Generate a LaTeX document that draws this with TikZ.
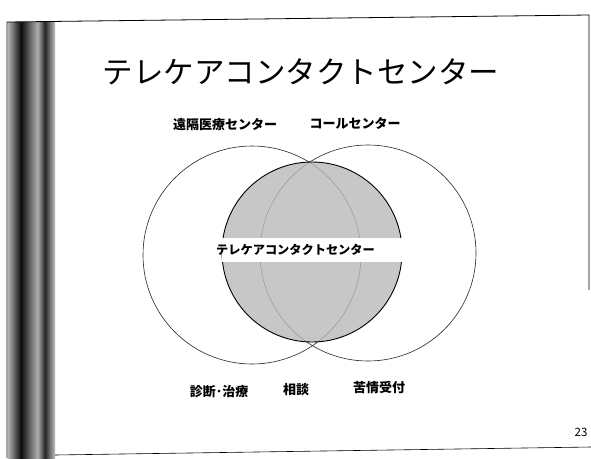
\documentclass[tikz,border=0pt]{standalone}
\usepackage{fontspec}
\newfontfamily\jp{Noto Sans CJK JP}
\usetikzlibrary{shapes.geometric}
\tikzset{
  outer/.style={circle, draw=black!85, line width=0.6pt, inner sep=0pt},
  inner/.style={circle, draw=black, line width=0.9pt, inner sep=0pt},
  lbl/.style={font=\jp\bfseries\fontsize{13}{15}\selectfont, inner sep=0pt},
  frameline/.style={line width=0.8pt, black}
}
\begin{document}
\begin{tikzpicture}[x=1pt,y=-1pt]
\useasboundingbox (0,0) rectangle (591,458);
\fill[white] (0,0) rectangle (591,458);
% left decorative strip
\shade[left color=black!30, right color=black!55] (8,22) rectangle (13,458);
\shade[left color=black!55, right color=black!95] (13,22) rectangle (21,458);
\shade[left color=black!95, right color=black!60] (21,22) rectangle (30,458);
\shade[left color=black!60, right color=black!30] (30,22) rectangle (38,458);
\shade[left color=black!35, right color=black!85] (38,22) rectangle (45,458);
\shade[left color=black!85, right color=black!25] (45,22) rectangle (55,458);
% slide frame
\coordinate (tl) at (7,22);
\coordinate (tr) at (589,15);
\coordinate (bl) at (7,458);
\coordinate (rb) at (589,290);
\coordinate (b1) at (55,455);
\coordinate (b2) at (591,447);
\draw[frameline] (bl) -- (tl) -- (tr) -- (rb);
\draw[frameline, line width=0.6pt] (b1) -- (b2);
% title
\node[font=\jp\fontsize{30.5}{34}\selectfont, inner sep=0pt] (title) at (301,72) {テレケアコンタクトセンター};
% circles
\node[outer, minimum size=218pt] (L) at (252,255) {};
\node[outer, minimum size=216pt] (R) at (368,253) {};
\begin{scope}
  \clip (312,252) circle[radius=90pt];
  \fill[black!27, opacity=0.8] (312,252) circle[radius=90pt];
\end{scope}
\node[inner, minimum size=180pt] (M) at (312,252) {};
% white band with centre text
\node[fill=white, minimum width=181pt, minimum height=24pt, inner sep=0pt] (band) at (312,250) {};
\node[lbl, font=\jp\bfseries\fontsize{12.2}{14}\selectfont, anchor=west] (center) at (216,250) {テレケアコンタクトセンター};
% labels
\node[lbl] (remote) at (225,125) {遠隔医療センター};
\node[lbl] (call) at (355,123) {コールセンター};
\node[lbl] (diag) at (219,392) {診断･治療};
\node[lbl] (consult) at (296,390) {相談};
\node[lbl] (complaint) at (379,388) {苦情受付};
% page number
\node[font=\jp\fontsize{11.5}{13}\selectfont, inner sep=0pt] (page) at (581,432) {23};
\end{tikzpicture}
\end{document}
